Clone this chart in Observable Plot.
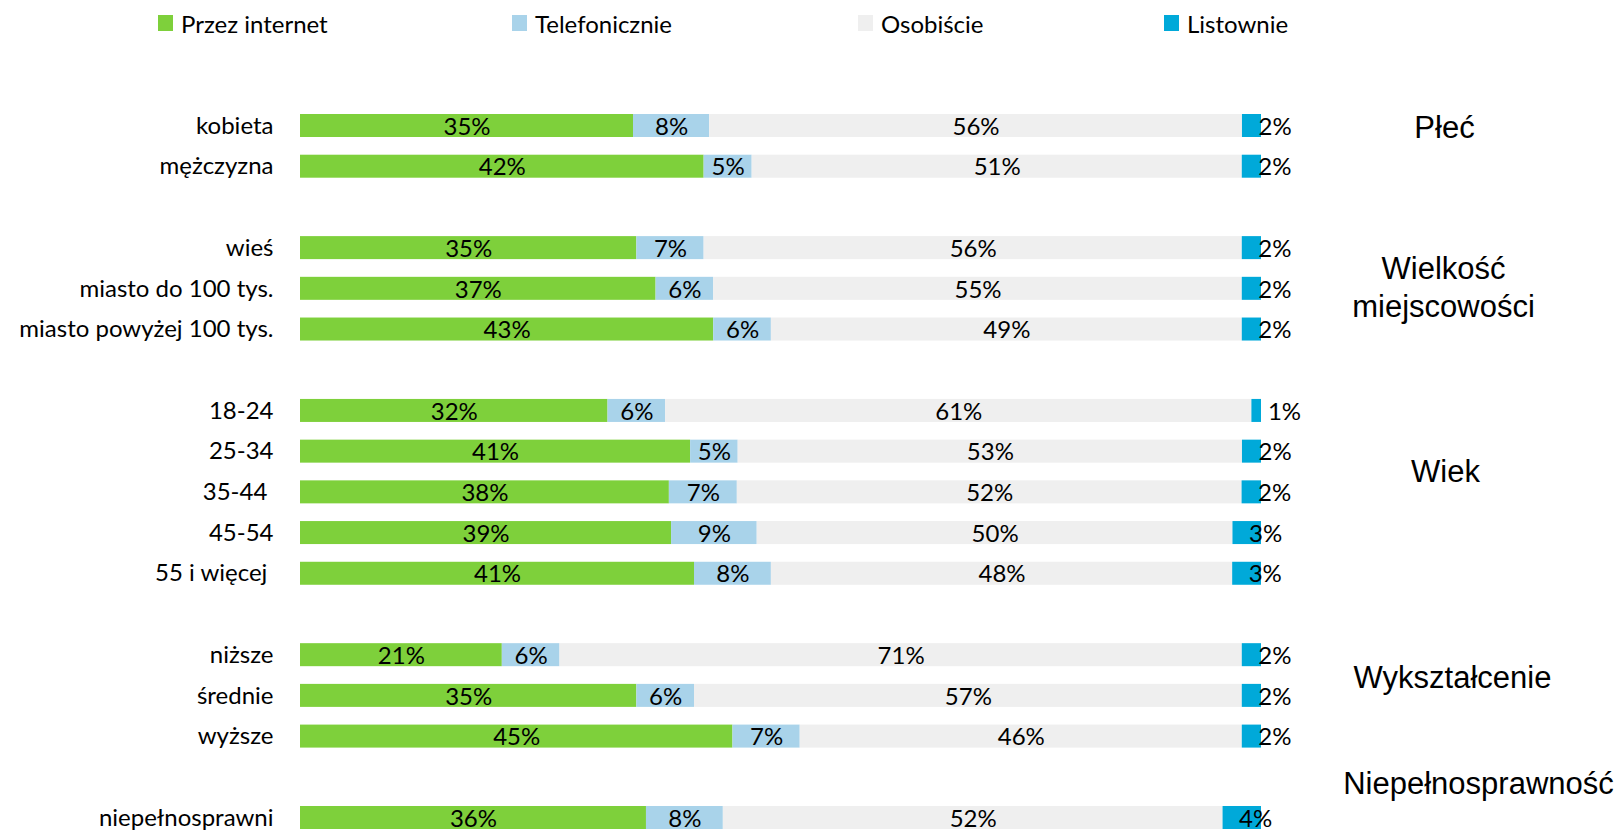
<!DOCTYPE html>
<html><head><meta charset="utf-8">
<script src="https://cdn.jsdelivr.net/npm/d3@7"></script>
<script src="https://cdn.jsdelivr.net/npm/@observablehq/plot@0.6"></script>
<style>
body{margin:0;background:#fff}
#wrap{position:relative;width:1622px;height:832px;overflow:hidden}
#legend .item{position:absolute;top:9px;height:28px;display:flex;align-items:center;font-family:Lato,sans-serif;font-size:24px;color:#000;white-space:nowrap}
#legend .sw{width:15px;height:16px;margin-right:8px}
svg text{white-space:pre}
</style></head>
<body><div id="wrap"><div id="chart"></div><div id="legend"></div></div>
<script>
const categories = ["kobieta","mężczyzna","wieś","miasto do 100 tys.","miasto powyżej 100 tys.","18-24","25-34","35-44 ","45-54","55 i więcej ","niższe","średnie","wyższe","niepełnosprawni"];
const groupNames = ["Płeć","Wielkość\nmiejscowości","Wiek","Wykształcenie","Niepełnosprawność"];
const groupSizes = [2,3,5,3,1];
const series = ["Przez internet","Telefonicznie","Osobiście","Listownie"];
const internet  = [35,42,35,37,43,32,41,38,39,41,21,35,45,36];
const telefon   = [8,5,7,6,6,6,5,7,9,8,6,6,7,8];
const osobiscie = [56,51,56,55,49,61,53,52,50,48,71,57,46,52];
const listownie = [2,2,2,2,2,1,2,2,3,3,2,2,2,4];
const colors = ["#7ed03b","#a9d3ea","#efefef","#00a9d9"];

const values = [internet, telefon, osobiscie, listownie];
const rows = [];
categories.forEach((c,i) => values.forEach((arr,j) => rows.push({category:c, series:series[j], value:arr[i]})));

const domain = [];
let k = 0;
groupSizes.forEach((n,g) => {
  for (let i=0;i<n;i++) domain.push(categories[k++]);
  if (g < groupSizes.length-1) domain.push("_gap"+g);
});

// group label anchors (row the label sits next to) and vertical nudges
let start = 0;
const groupRows = groupSizes.map(n => { const r = categories.slice(start, start+n); start += n; return r; });
const groupAnchor = [groupRows[0][0], groupRows[1][1], groupRows[2][2], groupRows[3][1], groupRows[4][0]];
const groupDy = [0, -3, -23, -20, -36];
const groupDx = [183, 182, 184, 191, 217];

const stackOpts = {x:"value", y:"category", z:"series", offset:"normalize"};

const plot = Plot.plot({
  width:1622, height:832,
  marginTop:114, marginBottom:3, marginLeft:300, marginRight:361,
  x:{domain:[0,1], axis:null},
  y:{domain, paddingInner:0.435, paddingOuter:0, align:0.5, round:false, label:null, tickSize:0, tickPadding:27,
     tickFormat: d => d.startsWith("_gap") ? "" : d},
  color:{domain:series, range:colors},
  style:{fontFamily:"Lato, sans-serif", fontSize:"24px", color:"#000", background:"#fff", overflow:"visible"},
  marks:[
    Plot.barX(rows, Plot.stackX({...stackOpts, fill:"series"})),
    Plot.text(rows, Plot.stackX({...stackOpts, text: d => d.series === series[3] ? "" : d.value + "%", fontSize:24, dy:1, fill:"#000"})),
    Plot.text(rows, Plot.stackX1({...stackOpts, text: d => d.series === series[3] ? d.value + "%" : "", fontSize:24, dy:1, dx:16, textAnchor:"start", fill:"#000"})),
    ...groupNames.map((g,i) => Plot.text([g], {
      y: () => groupAnchor[i], text: d => d, frameAnchor:"right", dx: groupDx[i], dy: groupDy[i],
      textAnchor:"middle", lineAnchor:"middle", lineHeight:1.23,
      fontFamily:"'Liberation Sans', Arial, sans-serif", fontSize:31, fill:"#000"
    }))
  ]
});
document.getElementById("chart").appendChild(plot);

const legendX = [158, 512, 858, 1164];
const legend = document.getElementById("legend");
series.forEach((s,i) => {
  const it = document.createElement("div");
  it.className = "item";
  it.style.left = legendX[i] + "px";
  const sw = document.createElement("div");
  sw.className = "sw";
  sw.style.background = colors[i];
  const t = document.createElement("span");
  t.textContent = s;
  it.appendChild(sw); it.appendChild(t);
  legend.appendChild(it);
});
</script>
</body></html>
